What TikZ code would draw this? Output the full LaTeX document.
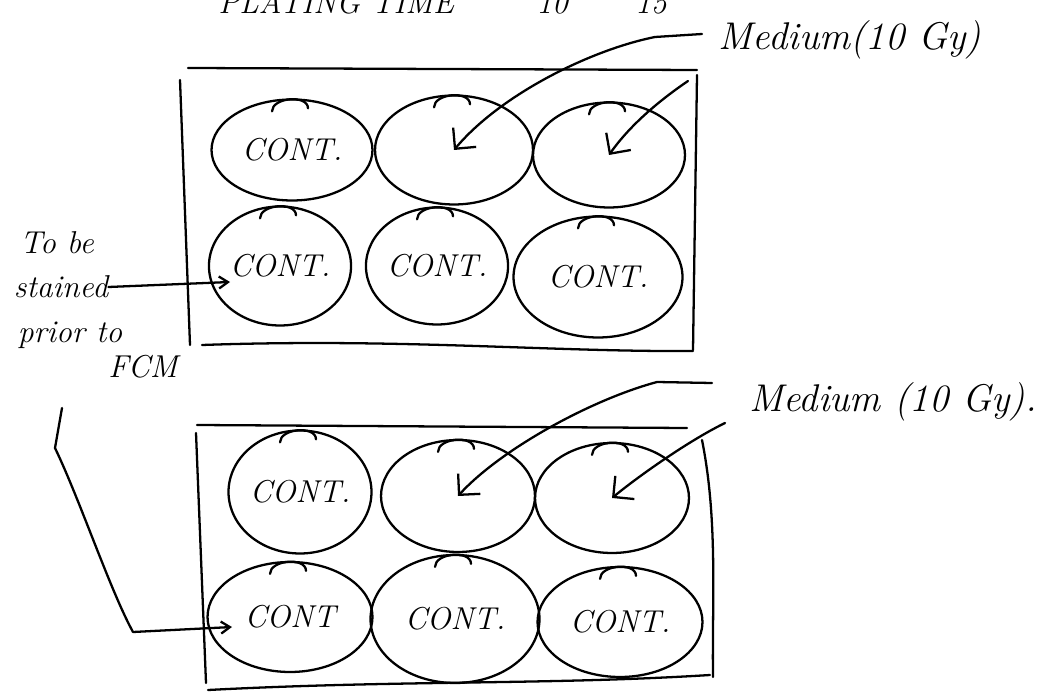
\documentclass[tikz,border=0pt]{standalone}
\usetikzlibrary{arrows.meta,shapes.geometric}
\tikzset{
  hand/.style={line width=1.3pt,line cap=round,line join=round},
  well/.style={hand,draw,ellipse,inner sep=0pt,font=\fontsize{18}{20}\selectfont\itshape},
  note/.style={inner sep=0pt,font=\fontsize{18}{20}\selectfont\itshape},
  bignote/.style={inner sep=0pt,font=\fontsize{22}{26}\selectfont\itshape},
  bigbarb/.style={hand,-{Straight Barb[length=3mm,width=6mm]}},
  smallbarb/.style={hand,-{Straight Barb[length=1.8mm,width=2.4mm]}},
}
\begin{document}
\begin{tikzpicture}[x=0.02cm,y=-0.02cm]
    \useasboundingbox (0,0) rectangle (1044,692);
    % heading, cut off at the top of the sheet
    \node [note,anchor=base west] (head) at (218,14) {PLATING TIME \hspace{1.2cm} 10 \hspace{0.9cm} 15};
    % upper plate
    \draw [hand] (188,68) -- (697,70);
    \draw [hand] (180,80) -- (190,345);
    \draw [hand] (202,345) .. controls (400,338) and (550,352) .. (693,351);
    \draw [hand] (697,75) -- (693,350);
    \node [well,minimum width=3.22cm,minimum height=2.02cm] (t1) at (292,150) {CONT.};
    \node [well,minimum width=3.16cm,minimum height=2.18cm] (t2) at (454,150) {};
    \node [well,minimum width=3.04cm,minimum height=2.1cm] (t3) at (609,155) {};
    \node [well,minimum width=2.78cm,minimum height=2.38cm] (t4) at (280,266) {CONT.};
    \node [well,minimum width=2.84cm,minimum height=2.34cm] (t5) at (437,266) {CONT.};
    \node [well,minimum width=3.38cm,minimum height=2.42cm] (t6) at (598,277) {CONT.};
    % lower plate
    \draw [hand] (197,425) -- (687,428);
    \draw [hand] (196,433) -- (206,683);
    \draw [hand] (208,690) .. controls (400,680) and (550,685) .. (710,675);
    \draw [hand] (702,440) .. controls (718,520) and (712,600) .. (713,677);
    \node [well,minimum width=2.86cm,minimum height=2.46cm] (b1) at (300,492) {CONT.};
    \node [well,minimum width=3.08cm,minimum height=2.24cm] (b2) at (458,496) {};
    \node [well,minimum width=3.08cm,minimum height=2.2cm] (b3) at (612,498) {};
    \node [well,minimum width=3.3cm,minimum height=2.2cm] (b4) at (290,617) {CONT};
    \node [well,minimum width=3.38cm,minimum height=2.56cm] (b5) at (455,619) {CONT.};
    \node [well,minimum width=3.3cm,minimum height=2.2cm] (b6) at (620,622) {CONT.};
    \foreach \w in {t1,t2,t3,t4,t5,t6,b1,b2,b3,b4,b5,b6}
        \draw [hand] ([shift={(-20,13)}]\w.north) to [out=90,in=90] ([shift={(16,10)}]\w.north);
    % labels and arrows
    \node [bignote] (medtop) at (850,40) {Medium(10 Gy)};
    \node [bignote] (medbot) at (893,402) {Medium (10 Gy).};
    \coordinate (m1) at (702,34);
    \coordinate (m2) at (688,81);
    \coordinate (m3) at (712,383);
    \coordinate (m4) at (725,423);
    \draw [bigbarb] (m1) -- (655,37) .. controls (590,50) and (500,95) .. (t2.center);
    \draw [bigbarb] (m2) .. controls (660,100) and (630,125) .. (t3.center);
    \draw [bigbarb] (m3) -- (657,382) .. controls (590,400) and (500,450) .. (b2.center);
    \draw [bigbarb] (m4) .. controls (690,440) and (640,475) .. (b3.center);
    \node [note] (tobe) at (57,243) {To be};
    \node [note] (stain) at (61,287) {stained};
    \node [note] (prior) at (70,335) {prior to};
    \node [note] (fcm) at (143,367) {FCM};
    \draw [smallbarb] (stain.east) -- ([shift={(-50,16)}]t4.center);
    \coordinate (down) at (62,408);
    \draw [smallbarb] (down) -- (55,448) .. controls (80,500) and (110,590) .. (133,632) -- ([shift={(-58,10)}]b4.center);
\end{tikzpicture}
\end{document}
